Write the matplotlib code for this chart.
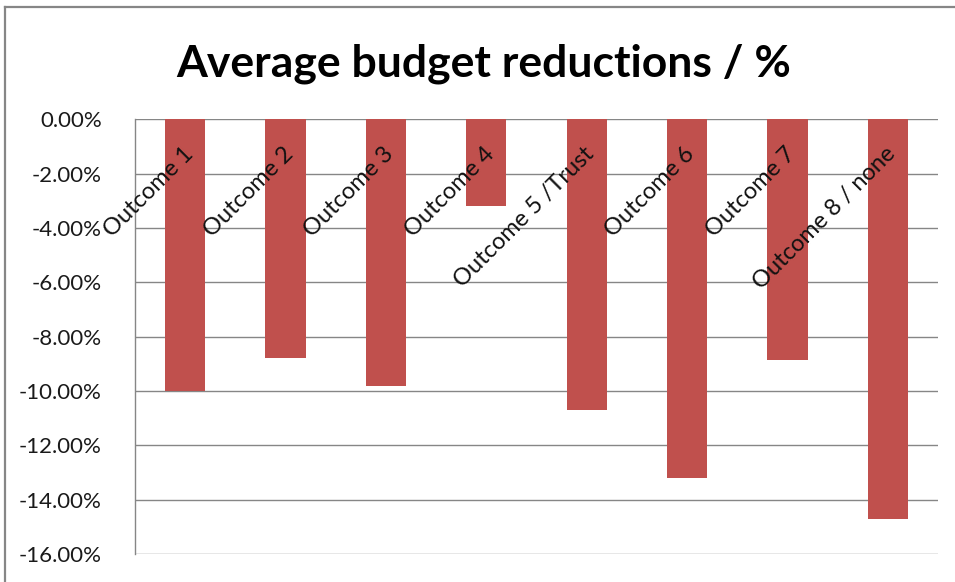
import matplotlib
matplotlib.use("Agg")
import matplotlib.pyplot as plt
from matplotlib.lines import Line2D
from matplotlib.ticker import FuncFormatter, MultipleLocator
import matplotlib.transforms as mtransforms

categories = ["Outcome 1", "Outcome 2", "Outcome 3", "Outcome 4",
              "Outcome 5 /Trust", "Outcome 6", "Outcome 7", "Outcome 8 / none"]
values = [-10.0, -8.8, -9.82, -3.18, -10.69, -13.2, -8.87, -14.71]
title = "Average budget reductions / %"

plt.rcParams['font.family'] = ['Lato', 'DejaVu Sans']

W, H = 955, 582
fig = plt.figure(figsize=(W / 100, H / 100), dpi=100)
ax = fig.add_axes([135 / W, 1 - 554 / H, (938 - 135) / W, (554 - 119.3) / H])

x = list(range(len(categories)))
ax.bar(x, values, width=0.4, color="#C0504D", zorder=3)
ax.set_xlim(-0.5, len(categories) - 0.5)
ax.set_ylim(-16, 0)
ax.yaxis.set_major_locator(MultipleLocator(2))
ax.yaxis.set_major_formatter(FuncFormatter(lambda v, p: f"{v:.2f}%" if abs(v) > 1e-9 else "0.00%"))
ax.tick_params(axis='y', length=0, pad=24, labelsize=16, colors="#1a1a1a")
ax.tick_params(axis='x', length=0, labelbottom=False)
ax.grid(axis='y', color="#868686", linewidth=1.0, zorder=1)
for s in ['top', 'right', 'bottom']:
    ax.spines[s].set_visible(False)
ax.spines['left'].set_color("#868686")
ax.spines['left'].set_linewidth(1.0)

# category labels rotated, placed under the zero line
trans = mtransforms.blended_transform_factory(ax.transData, ax.transAxes)
offset = mtransforms.ScaledTranslation(-3 / 100, -24 / 100, fig.dpi_scale_trans)
for xi, lab in zip(x, categories):
    ax.text(xi, 1.0, lab, transform=trans + offset, rotation=45,
            rotation_mode='anchor', ha='right', va='top', fontsize=17,
            color="#111111", zorder=4)

fig.text(484 / W, 1 - 64 / H, title, ha='center', va='center',
         fontsize=32, fontweight='bold', color="black")

# outer chart frame (top and left edges visible)
fig.add_artist(Line2D([4.5 / W, 1.0], [1 - 6.5 / H, 1 - 6.5 / H],
                      transform=fig.transFigure, color="#868686", linewidth=1.6))
fig.add_artist(Line2D([4.5 / W, 4.5 / W], [0, 1 - 6.5 / H],
                      transform=fig.transFigure, color="#868686", linewidth=1.6))

fig.savefig("out.png", dpi=100)
